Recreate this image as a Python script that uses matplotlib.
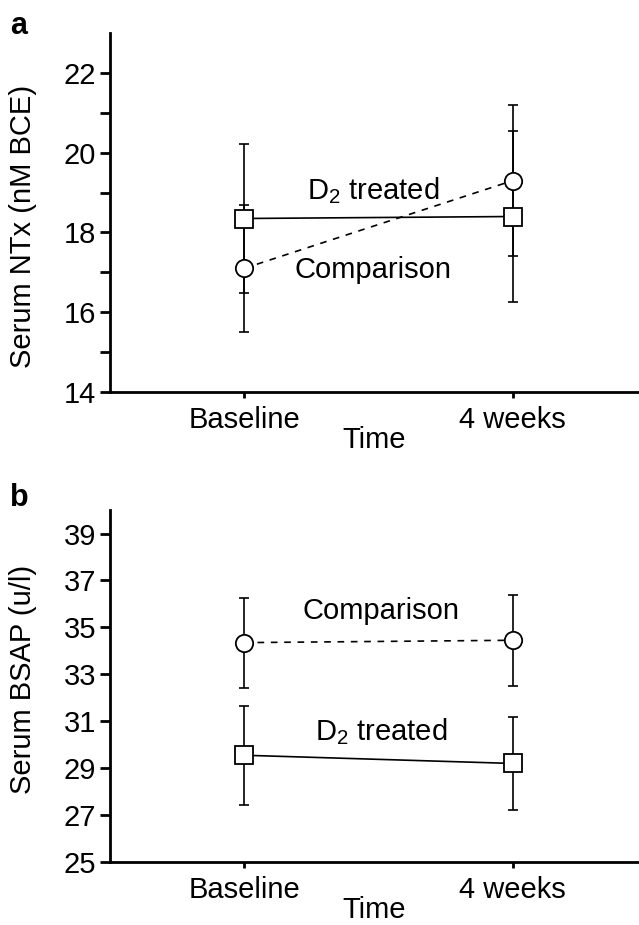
import matplotlib
matplotlib.use("Agg")
from matplotlib import pyplot as plt

plt.rcParams['font.family'] = ['Liberation Sans', 'DejaVu Sans']
plt.rcParams['mathtext.fontset'] = 'custom'
plt.rcParams['mathtext.rm'] = 'Liberation Sans'
plt.rcParams['mathtext.it'] = 'Liberation Sans:italic'
plt.rcParams['mathtext.default'] = 'regular'

# data
times = ["Baseline", "4 weeks"]
x = [0, 1]

ntx_treated = [18.35, 18.4]
ntx_treated_err = [1.87, 2.15]
ntx_comparison = [17.1, 19.3]
ntx_comparison_err = [1.6, 1.9]

bsap_comparison = [34.35, 34.45]
bsap_comparison_err = [1.92, 1.95]
bsap_treated = [29.55, 29.2]
bsap_treated_err = [2.1, 1.98]

fig = plt.figure(figsize=(6.39, 9.25), dpi=100)
ax1 = fig.add_axes([0.172, 0.5762, 0.828, 0.3881])
ax2 = fig.add_axes([0.172, 0.0681, 0.828, 0.3805])

fs = 21


def draw_series(ax, y, err, marker, ls):
    ax.errorbar(x, y, yerr=err, fmt='none', ecolor='black', elinewidth=1.2,
                capsize=3.6, capthick=1.2, zorder=1)
    ax.plot(x, y, color='black', linestyle=ls, linewidth=1.2,
            dashes=(4, 4) if ls == '--' else (None, None), zorder=2)
    ax.plot(x, y, linestyle='none', marker=marker, markersize=12.5,
            markerfacecolor='white', markeredgecolor='black',
            markeredgewidth=1.3, zorder=3)


def style_axes(ax):
    for side in ['top', 'right']:
        ax.spines[side].set_visible(False)
    ax.spines['left'].set_linewidth(2)
    ax.spines['bottom'].set_linewidth(2)
    ax.set_xlim(-0.5, 1.47)
    ax.set_xticks(x)
    ax.set_xticklabels(times, fontsize=fs)
    ax.tick_params(axis='y', direction='out', length=7, width=2,
                   labelsize=fs, pad=3)
    ax.tick_params(axis='x', direction='out', length=4, width=2,
                   labelsize=fs, pad=6)
    ax.set_xlabel("Time", fontsize=fs, labelpad=-6)


# panel a
draw_series(ax1, ntx_treated, ntx_treated_err, 's', '-')
draw_series(ax1, ntx_comparison, ntx_comparison_err, 'o', '--')
style_axes(ax1)
ax1.set_ylim(14, 23)
ax1.set_yticks(range(14, 23))
ax1.set_yticklabels([str(v) if v % 2 == 0 else '' for v in range(14, 23)])
ax1.set_ylabel("Serum NTx (nM BCE)", fontsize=fs)
ax1.yaxis.set_label_coords(-0.138, 0.46)
ax1.text(0.48, 19.05, "D$_2$ treated", fontsize=fs, ha='center', va='center')
ax1.text(0.48, 17.05, "Comparison", fontsize=fs, ha='center', va='center')
fig.text(0.016, 0.988, "a", fontsize=22, fontweight='bold', va='top')

# panel b
draw_series(ax2, bsap_comparison, bsap_comparison_err, 'o', '--')
draw_series(ax2, bsap_treated, bsap_treated_err, 's', '-')
style_axes(ax2)
ax2.set_ylim(25, 40)
ax2.set_yticks(range(25, 40, 2))
ax2.set_ylabel("Serum BSAP (u/l)", fontsize=fs)
ax2.yaxis.set_label_coords(-0.138, 0.52)
ax2.text(0.51, 35.68, "Comparison", fontsize=fs, ha='center', va='center')
ax2.text(0.51, 30.56, "D$_2$ treated", fontsize=fs, ha='center', va='center')
fig.text(0.016, 0.478, "b", fontsize=22, fontweight='bold', va='top')

plt.savefig("out.png", dpi=100)
